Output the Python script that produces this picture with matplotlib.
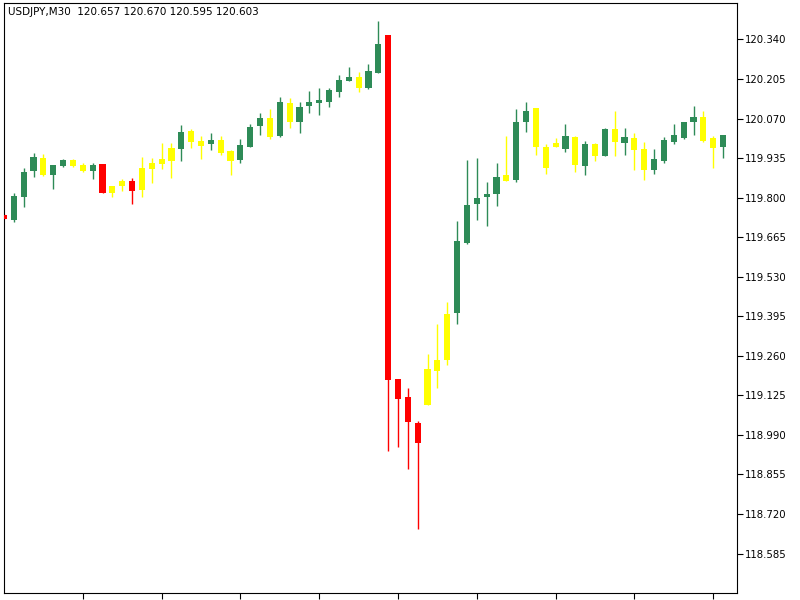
import matplotlib
matplotlib.use('Agg')
import matplotlib.pyplot as plt

# USDJPY M30 candles
opens = [119.741, 119.724, 119.801, 119.891, 119.936, 119.878, 119.909, 119.929, 119.913, 119.891,
         119.915, 119.815, 119.840, 119.856, 119.826, 119.897, 119.915, 119.925, 119.966, 120.027,
         119.994, 119.983, 119.998, 119.958, 119.929, 119.974, 120.045, 120.073, 120.011, 120.122,
         120.060, 120.112, 120.122, 120.128, 120.162, 120.200, 120.212, 120.174, 120.225, 120.355,
         119.180, 119.121, 119.031, 119.092, 119.209, 119.245, 119.405, 119.644, 119.777, 119.803,
         119.812, 119.857, 119.860, 120.057, 120.105, 119.972, 119.972, 119.966, 120.008, 119.908,
         119.983, 119.942, 120.034, 119.988, 120.005, 119.966, 119.895, 119.926, 119.991, 120.003,
         120.059, 120.077, 120.003, 119.972]
highs = [119.743, 119.815, 119.902, 119.954, 119.949, 119.912, 119.932, 119.931, 119.920, 119.920,
         119.916, 119.841, 119.864, 119.868, 119.940, 119.935, 119.988, 119.986, 120.047, 120.034,
         120.011, 120.022, 120.011, 119.963, 120.000, 120.052, 120.090, 120.102, 120.143, 120.139,
         120.126, 120.164, 120.174, 120.174, 120.219, 120.245, 120.228, 120.256, 120.403, 120.355,
         119.180, 119.149, 119.039, 119.266, 119.369, 119.445, 119.720, 119.929, 119.936, 119.855,
         119.920, 120.011, 120.102, 120.126, 120.105, 119.983, 120.003, 120.051, 120.011, 119.995,
         119.986, 120.037, 120.097, 120.039, 120.020, 119.991, 119.966, 120.008, 120.052, 120.059,
         120.114, 120.097, 120.011, 120.014]
lows = [119.726, 119.718, 119.767, 119.870, 119.874, 119.830, 119.904, 119.904, 119.887, 119.864,
        119.815, 119.803, 119.823, 119.777, 119.803, 119.849, 119.897, 119.866, 119.926, 119.969,
        119.931, 119.963, 119.946, 119.878, 119.918, 119.972, 120.014, 119.999, 120.008, 120.037,
        120.020, 120.090, 120.082, 120.111, 120.145, 120.198, 120.162, 120.171, 120.225, 118.936,
        118.948, 118.873, 118.669, 119.092, 119.149, 119.229, 119.368, 119.641, 119.724, 119.704,
        119.773, 119.857, 119.855, 120.025, 119.946, 119.880, 119.972, 119.957, 119.889, 119.878,
        119.926, 119.942, 119.943, 119.946, 119.895, 119.860, 119.881, 119.920, 119.983, 119.999,
        120.014, 119.991, 119.902, 119.935]
closes = [119.727, 119.806, 119.889, 119.940, 119.878, 119.911, 119.928, 119.908, 119.891, 119.911,
          119.815, 119.839, 119.856, 119.824, 119.900, 119.920, 119.931, 119.971, 120.025, 119.990,
          119.978, 119.997, 119.952, 119.925, 119.979, 120.042, 120.072, 120.006, 120.126, 120.060,
          120.110, 120.126, 120.135, 120.169, 120.202, 120.212, 120.174, 120.233, 120.325, 119.178,
          119.113, 119.033, 118.962, 119.214, 119.246, 119.403, 119.652, 119.775, 119.798, 119.813,
          119.872, 119.878, 120.057, 120.096, 119.972, 119.900, 119.988, 120.012, 119.913, 119.982,
          119.942, 120.034, 119.989, 120.008, 119.963, 119.895, 119.932, 119.997, 120.014, 120.059,
          120.077, 119.995, 119.969, 120.014]
# candle colour codes: G green, Y yellow, R red
kinds = list("RGGGYGGYYGRYYRYYYYGYYGYYGGGYGYGGGGGGYGGRRRRYYYGGGGGYGGYYYGYGYGYGYYGGGGGYYG")

y_ticks = [118.585, 118.720, 118.855, 118.990, 119.125, 119.260, 119.395,
           119.530, 119.665, 119.800, 119.935, 120.070, 120.205, 120.340]
header = "USDJPY,M30  120.657 120.670 120.595 120.603"

palette = {'G': '#2E8B57', 'Y': '#FFFF00', 'R': '#FF0000'}

fig = plt.figure(figsize=(8, 6), dpi=100)
ax = fig.add_axes([4 / 800, 7 / 600, 733 / 800, 590 / 600])

xs = list(range(len(opens)))
cols = [palette[k] for k in kinds]
bottoms = [min(o, c) for o, c in zip(opens, closes)]
heights = [max(abs(c - o), 0.004) for o, c in zip(opens, closes)]

ax.vlines(xs, lows, highs, colors=cols, linewidth=1.0, zorder=2)
ax.bar(xs, heights, bottom=bottoms, width=0.62, color=cols, linewidth=0, zorder=3)

ax.set_xlim(0, 733 / 9.85)
ax.set_ylim(118.4503, 120.4646)

ax.yaxis.tick_right()
ax.set_yticks(y_ticks)
ax.set_yticklabels(['%.3f' % v for v in y_ticks], fontsize=7.3)
ax.set_xticks(list(range(8, 74, 8)))
ax.set_xticklabels([])
ax.tick_params(axis='both', direction='out', length=4, width=0.8, color='black', pad=2)

for s in ax.spines.values():
    s.set_color('black')
    s.set_linewidth(0.8)

ax.text(0.006, 0.993, header, transform=ax.transAxes, va='top', ha='left', fontsize=7.5)

fig.savefig('out.png', dpi=100, facecolor='white')
